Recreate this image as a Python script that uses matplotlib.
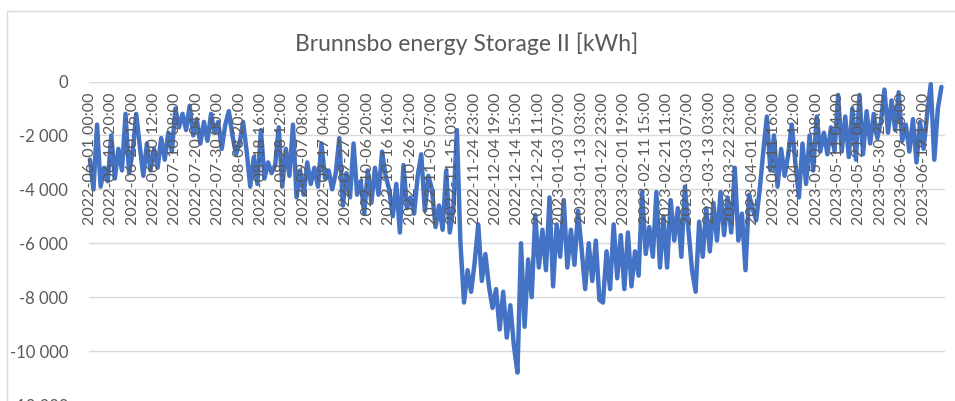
import matplotlib.pyplot as plt
from matplotlib.patches import Rectangle
from matplotlib.ticker import FuncFormatter
import numpy as np

# tick labels every 236 h from 2022-06-01 00:00 (local time, DST shifts included)
tick_labels = [
    "2022-06-01 00:00", "2022-06-10 20:00", "2022-06-20 16:00", "2022-06-30 12:00",
    "2022-07-10 08:00", "2022-07-20 04:00", "2022-07-30 00:00", "2022-08-08 20:00",
    "2022-08-18 16:00", "2022-08-28 12:00", "2022-09-07 08:00", "2022-09-17 04:00",
    "2022-09-27 00:00", "2022-10-06 20:00", "2022-10-16 16:00", "2022-10-26 12:00",
    "2022-11-05 07:00", "2022-11-15 03:00", "2022-11-24 23:00", "2022-12-04 19:00",
    "2022-12-14 15:00", "2022-12-24 11:00", "2023-01-03 07:00", "2023-01-13 03:00",
    "2023-01-22 23:00", "2023-02-01 19:00", "2023-02-11 15:00", "2023-02-21 11:00",
    "2023-03-03 07:00", "2023-03-13 03:00", "2023-03-22 23:00", "2023-04-01 20:00",
    "2023-04-11 16:00", "2023-04-21 12:00", "2023-05-01 08:00", "2023-05-11 04:00",
    "2023-05-21 00:00", "2023-05-30 20:00", "2023-06-09 16:00", "2023-06-19 12:00",
]
tick_step_h = 236

# storage level [kWh], 6 readings per tick interval
storage_kwh = [
    -2900, -4000, -1600, -3900, -3200, -3700,
    -2000, -3600, -2500, -3300, -1200, -3400,
    -2600, -1200, -2400, -3500, -2300, -3300,
    -2500, -3200, -2100, -2900, -1900, -2600,
    -1000, -1700, -1200, -1800, -900, -2000,
    -1400, -2300, -1500, -2200, -1200, -1900,
    -1500, -2500, -1600, -1100, -2000, -2700,
    -2300, -1500, -2600, -3900, -2800, -3800,
    -1800, -3600, -3000, -3400, -3100, -1700,
    -3900, -2500, -3500, -1600, -4300, -3300,
    -4200, -3000, -3800, -3200, -3900, -2300,
    -3600, -3300, -4000, -3400, -2100, -4600,
    -3400, -4300, -2300, -4200, -3700, -4900,
    -3300, -4500, -3200, -4200, -2600, -3500,
    -4000, -5000, -3800, -5600, -3100, -4700,
    -4300, -4900, -3500, -2700, -4800, -3500,
    -4000, -5400, -4600, -5500, -3300, -5600,
    -4700, -1800, -6000, -8200, -7000, -7800,
    -6700, -5300, -7400, -6400, -7600, -8400,
    -7700, -9200, -7800, -9500, -8300, -9800,
    -10800, -6000, -9100, -6600, -8000, -4950,
    -6900, -5500, -7000, -4300, -7600, -5300,
    -6500, -4400, -6900, -5500, -6800, -4800,
    -6200, -7700, -6000, -7400, -5900, -8100,
    -8200, -6300, -7700, -5300, -7300, -5700,
    -7700, -5600, -7600, -6300, -7200, -4100,
    -6400, -5400, -6500, -4100, -6900, -5000,
    -6900, -4400, -5900, -4700, -6500, -3900,
    -5500, -7000, -7800, -5200, -6500, -4700,
    -6300, -4500, -5900, -4100, -5700, -4300,
    -5600, -3200, -5900, -4900, -7000, -4200,
    -4700, -5150, -4000, -2600, -1300, -3300,
    -2000, -3900, -2500, -3500, -2700, -1600,
    -3000, -4300, -2300, -3800, -2000, -3300,
    -1300, -2600, -1900, -2700, -1700, -2600,
    -500, -2600, -1300, -2800, -1000, -2900,
    -500, -2700, -1100, -2300, -1200, -2100,
    -1500, -300, -1900, -700, -1800, -400,
    -2200, -1600, -2600, -1400, -3000, -1500,
    -2500, -1200, -100, -2900, -1000, -200,
]
y_ticks = [0, -2000, -4000, -6000, -8000, -10000, -12000]

gray = "#595959"
plt.rcParams["font.family"] = ["Lato", "DejaVu Sans"]

W, H = 955, 401
fig = plt.figure(figsize=(W / 100, H / 100), dpi=100)

# chart frame (only top and left edges visible in the crop)
fig.add_artist(Rectangle((7 / W, -0.1), 1.2, 1.1 - 11 / H, transform=fig.transFigure,
                         fill=False, edgecolor="#d9d9d9", lw=1.0))

ax = fig.add_axes([89 / W, 1 - 405 / H, 856 / W, (405 - 81.5) / H])

hours = np.arange(len(storage_kwh)) * tick_step_h / 6
ax.plot(hours, storage_kwh, color="#4472C4", lw=3.2, solid_joinstyle="round",
        solid_capstyle="round", clip_on=False)

ax.set_xlim(-10, 9440)
ax.set_ylim(-12000, 0)
ax.set_yticks(y_ticks)
ax.yaxis.set_major_formatter(FuncFormatter(lambda v, p: f"{int(v):,}".replace(",", " ")))
ax.set_xticks([])
ax.yaxis.grid(True, color="#d9d9d9", lw=1.0)
ax.set_axisbelow(True)
for s in ax.spines.values():
    s.set_visible(False)
ax.tick_params(axis="y", length=0, pad=15, labelsize=12, labelcolor=gray)

for i, lab in enumerate(tick_labels):
    ax.annotate(lab, xy=(i * tick_step_h, 0), xytext=(0, -11), textcoords="offset pixels",
                rotation=90, ha="center", va="top", fontsize=11.5, color=gray, zorder=3)

fig.text(467 / W, 1 - 44 / H, "Brunnsbo energy Storage II [kWh]", ha="center", va="center",
         fontsize=16.5, color=gray)

fig.savefig("out.png", dpi=100)
